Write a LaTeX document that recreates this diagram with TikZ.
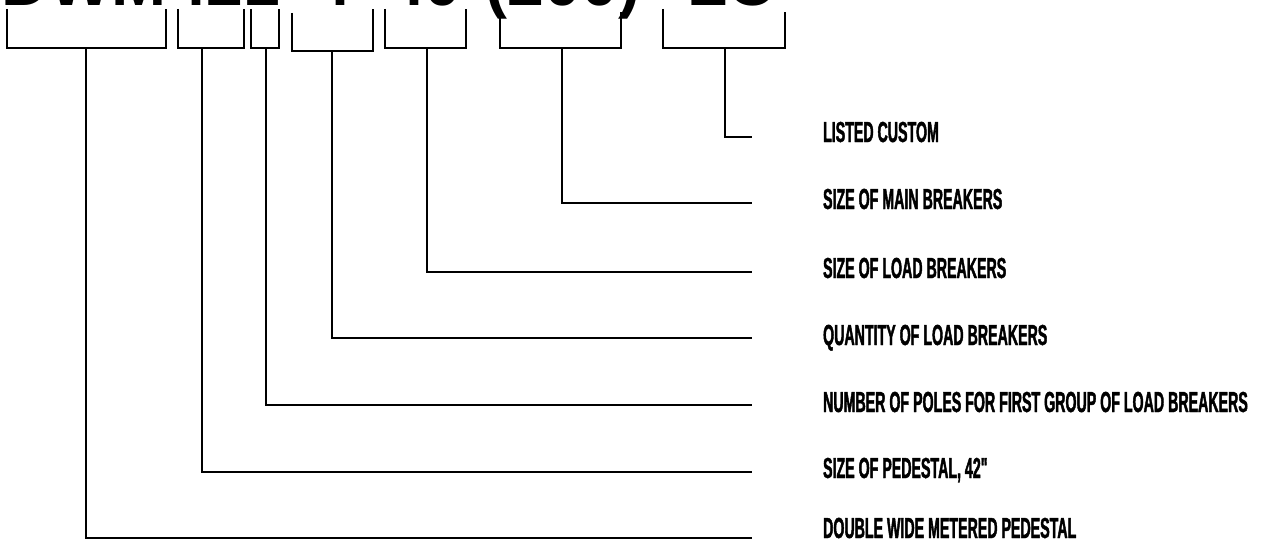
\documentclass[tikz,border=0pt]{standalone}
\usepackage{fontspec}
\setmainfont{Liberation Sans}
\newfontfamily\labelfont{Liberation Sans}[UprightFont={* Bold}, FakeStretch=0.49, FakeBold=1.4]
\newfontfamily\codefont{Liberation Sans}[UprightFont={* Bold}]
\begin{document}
\begin{tikzpicture}[x=1pt,y=-1pt,line width=2.2pt,
  bracketline/.style={line cap=butt,line join=miter,draw=black},
  leader/.style={line cap=butt,line join=miter,draw=black},
  lab/.style={anchor=base west,inner sep=0pt,font=\labelfont\fontsize{29}{29}\selectfont},
  code/.style={anchor=base,inner sep=0pt,font=\codefont\fontsize{66}{66}\selectfont}]
\useasboundingbox (0,0) rectangle (1267,543);
\clip (0,0) rectangle (1267,543);
% part-number text (clipped at the top)
\node[code] (c1) at (84,6) {DWM};
\node[code] (c2) at (207,6) {42};
\node[code] (c3) at (262,6) {1};
\node[code] (c4) at (333,6) {-4-};
\node[code] (c5) at (425,6) {40};
\node[code] (c6) at (563,6) {(200)};
\node[code] (c7) at (677,6) {-};
\node[code] (c8) at (731,6) {LC};
% brackets
\draw[bracketline] (7,9) |- (166,48) -- (166,9);
\draw[bracketline] (178,9) |- (244,48) -- (244,9);
\draw[bracketline] (251,9) |- (279,48) -- (279,9);
\draw[bracketline] (292,13) |- (373,51) -- (373,9);
\draw[bracketline] (385,9) |- (466,48) -- (466,9);
\draw[bracketline] (500,9) |- (621,48) -- (621,12);
\draw[bracketline] (663,9) |- (785,48) -- (785,12);
% bracket stem starts
\coordinate (s1) at (86,48);
\coordinate (s2) at (202,48);
\coordinate (s3) at (266,48);
\coordinate (s4) at (332,51);
\coordinate (s5) at (427,48);
\coordinate (s6) at (562,48);
\coordinate (s7) at (725,48);
% leader ends
\coordinate (e1) at (752,538);
\coordinate (e2) at (752,472);
\coordinate (e3) at (752,405);
\coordinate (e4) at (752,338);
\coordinate (e5) at (752,272);
\coordinate (e6) at (752,203);
\coordinate (e7) at (752,137);
% labels
\node[lab] (l1) at (822,538) {DOUBLE WIDE METERED PEDESTAL};
\node[lab] (l2) at (822,478) {SIZE OF PEDESTAL, 42"};
\node[lab] (l3) at (822,412) {NUMBER OF POLES FOR FIRST GROUP OF LOAD BREAKERS};
\node[lab] (l4) at (822,345) {QUANTITY OF LOAD BREAKERS};
\node[lab] (l5) at (822,278) {SIZE OF LOAD BREAKERS};
\node[lab] (l6) at (822,209) {SIZE OF MAIN BREAKERS};
\node[lab] (l7) at (822,142) {LISTED CUSTOM};
% leaders
\draw[leader] (s1) |- (e1);
\draw[leader] (s2) |- (e2);
\draw[leader] (s3) |- (e3);
\draw[leader] (s4) |- (e4);
\draw[leader] (s5) |- (e5);
\draw[leader] (s6) |- (e6);
\draw[leader] (s7) |- (e7);
\end{tikzpicture}
\end{document}
